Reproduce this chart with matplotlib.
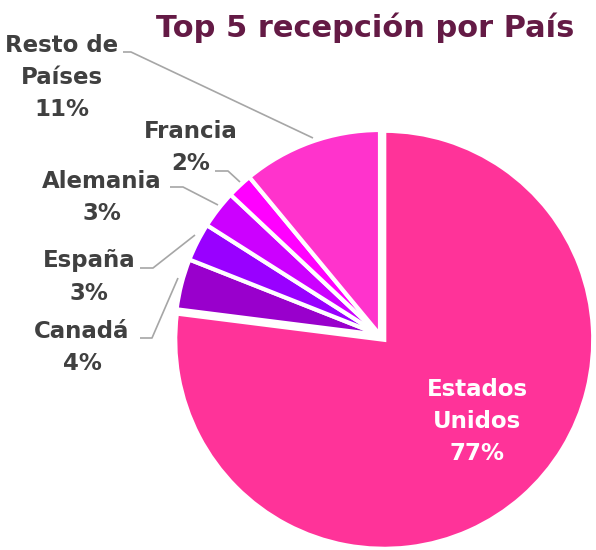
import matplotlib
matplotlib.use("Agg")
import matplotlib.pyplot as plt

# ---- data ----
countries = ["Estados\nUnidos", "Canadá", "España", "Alemania", "Francia", "Resto de\nPaíses"]
shares = [77, 4, 3, 3, 2, 11]
pct_labels = ["77%", "4%", "3%", "3%", "2%", "11%"]
colors = ["#FF3399", "#9900CC", "#9900FF", "#CC00FF", "#FF00FF", "#FF33CC"]
title = "Top 5 recepción por País"

W, H = 596, 550
fig = plt.figure(figsize=(W / 100, H / 100), dpi=100)
ax = fig.add_axes([0, 0, 1, 1])
ax.set_xlim(0, W)
ax.set_ylim(0, H)
ax.set_aspect("equal")
ax.axis("off")

cx, cy, R = 380, H - 335, 205
explode = [6.4, 0, 0, 0, 0, 0]  # pie() offsets in data units
wedges, _ = ax.pie(shares, colors=colors, startangle=90, counterclock=False,
                   center=(cx, cy), radius=R, explode=explode,
                   wedgeprops=dict(edgecolor="white", linewidth=3))
wedges[0].set_radius(R + 4)
ax.set_xlim(0, W)
ax.set_ylim(0, H)

FONT = "DejaVu Sans"
txt_color = "#404040"
fs = 16.5
ls = 1.5

# outside labels: (x, y top-origin) of label block center
label_pos = {1: (82, 347), 2: (89, 277), 3: (102, 197), 4: (191, 148), 5: (62, 77)}
leaders = {
    5: [(123, 52), (131, 52), (313, 138)],
    4: [(215, 171), (228, 171), (240, 182)],
    3: [(170, 187), (183, 187), (218, 205)],
    2: [(140, 268), (153, 268), (195, 235)],
    1: [(140, 338), (152, 338), (178, 278)],
}
for i, (x, y) in label_pos.items():
    ax.text(x, H - y, f"{countries[i]}\n{pct_labels[i]}", ha="center", va="center",
            fontsize=fs, fontweight="bold", color=txt_color, family=FONT,
            linespacing=ls)
    pts = leaders[i]
    ax.plot([p[0] for p in pts], [H - p[1] for p in pts], color="#A6A6A6", lw=1.2,
            solid_capstyle="butt")

ax.text(477, H - 421, f"{countries[0]}\n{pct_labels[0]}", ha="center", va="center",
        fontsize=fs, fontweight="bold", color="white", family=FONT, linespacing=ls)

ax.text(365, H - 28, title, ha="center", va="center", fontsize=22,
        fontweight="bold", color="#641A45", family=FONT)

fig.savefig("out.png", dpi=100)
